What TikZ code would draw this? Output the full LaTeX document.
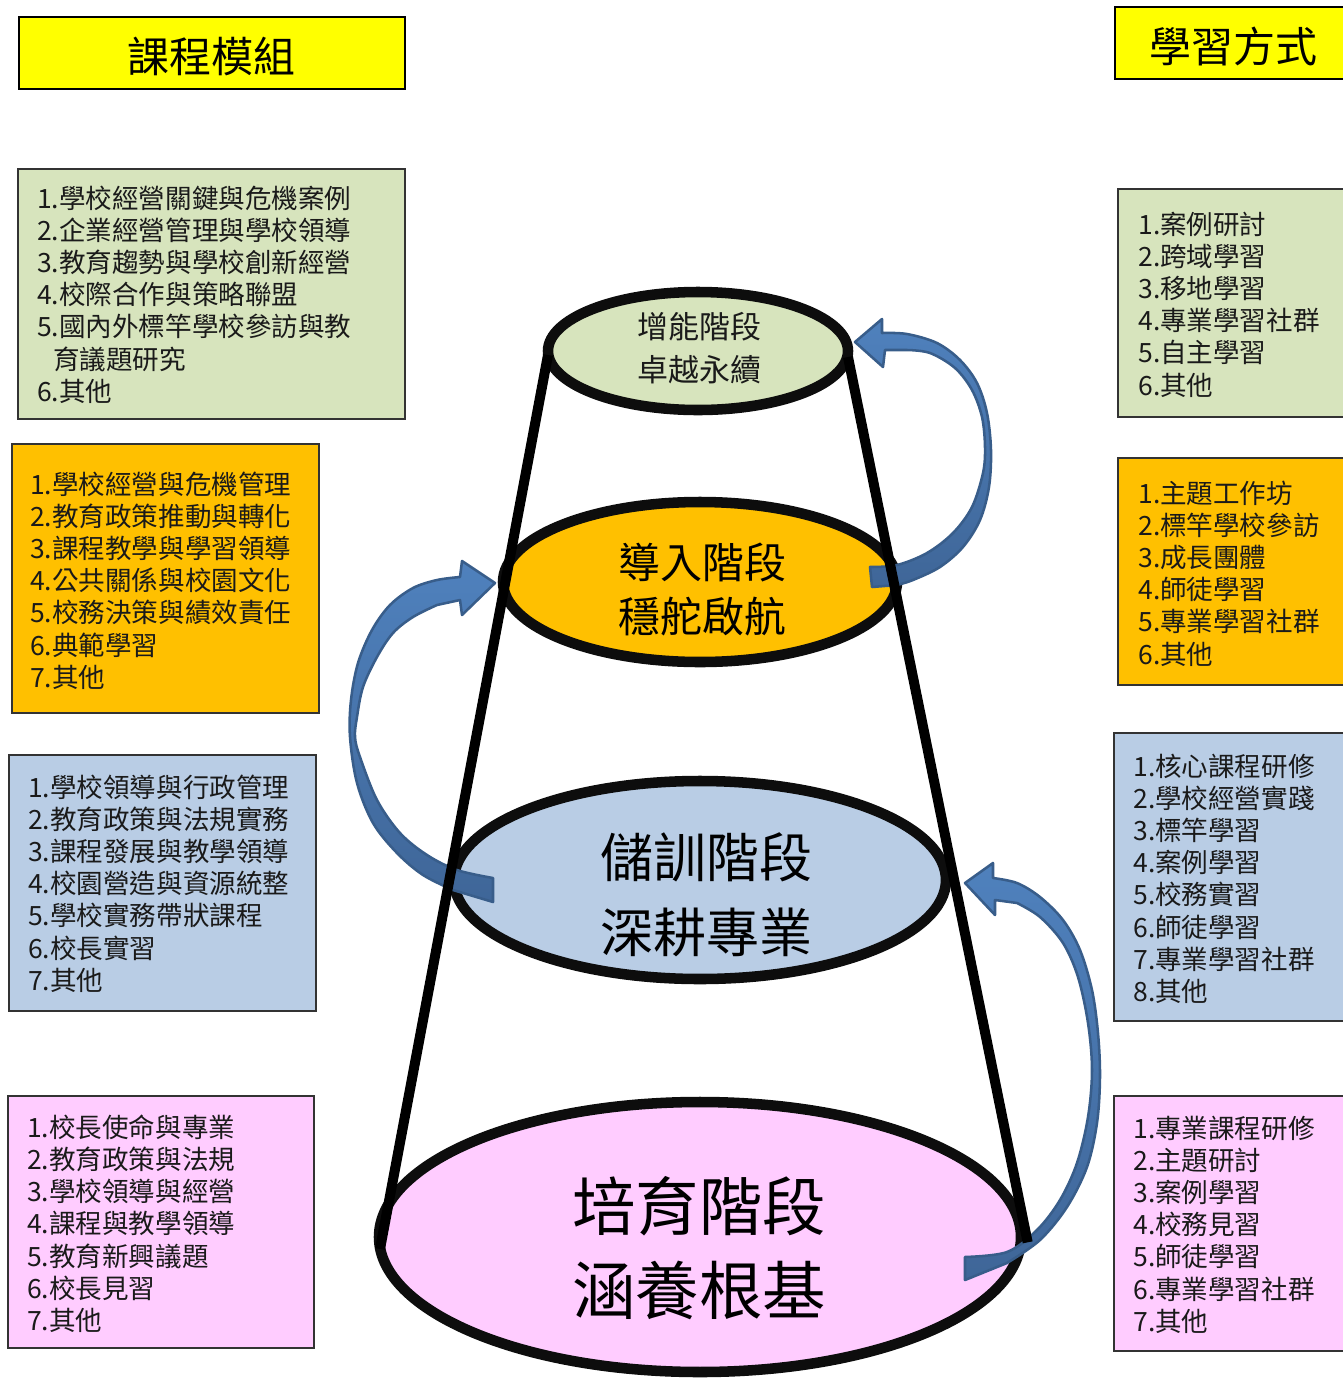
\documentclass[tikz,border=0pt]{standalone}
\usepackage{fontspec}
\setmainfont{Noto Sans CJK TC}
\usetikzlibrary{shapes.geometric}
\definecolor{ylw}{HTML}{FFFF00}
\definecolor{grn}{HTML}{D7E4BD}
\definecolor{org}{HTML}{FFC000}
\definecolor{blu}{HTML}{B9CDE5}
\definecolor{pnk}{HTML}{FFCCFF}
\definecolor{arrfill}{HTML}{4F81BD}
\definecolor{arrdark}{HTML}{3F6698}
\definecolor{arredge}{HTML}{385D8A}
\definecolor{txt}{HTML}{1A1A1A}
\definecolor{edge}{HTML}{0D0D0D}
\begin{document}
\begin{tikzpicture}[x=0.75pt,y=-0.75pt,
  box/.style={draw=black!80, line width=1.2pt, anchor=north west, inner sep=0pt},
  listtext/.style={anchor=north west, inner sep=0pt, align=left, text=txt, font=\fontsize{19.9pt}{24.15pt}\selectfont},
  titletext/.style={inner sep=0pt, font=\fontsize{31.5pt}{36pt}\selectfont},
  stage/.style={ellipse, draw=edge, line width=7.9pt, inner sep=0pt, outer sep=0pt},
  stagetext/.style={align=center, inner sep=0pt},
  blockarrow/.style={draw=arredge, line width=1.9pt, top color=arrfill, bottom color=arrdark, line join=round},
  cone/.style={line width=7.5pt, draw=black}
]
\useasboundingbox (0,0) rectangle (1343,1379);

% title boxes
\node[box, fill=ylw, draw=black, minimum width=386*0.75pt, minimum height=72*0.75pt] (t1) at (18,16) {};
\node[titletext] (t1t) at (211,56) {課程模組};
\node[box, fill=ylw, draw=black, minimum width=240*0.75pt, minimum height=72*0.75pt] (t2) at (1114,6) {};
\node[titletext] (t2t) at (1233,46) {學習方式};

% left list boxes
\node[box, fill=grn, minimum width=387*0.75pt, minimum height=250*0.75pt] (a1) at (17,168) {};
\node[listtext] (a1t) at (37,185.4) {1.學校經營關鍵與危機案例\\2.企業經營管理與學校領導\\3.教育趨勢與學校創新經營\\4.校際合作與策略聯盟\\5.國內外標竿學校參訪與教\\\hspace*{0.6em}育議題研究\\6.其他};
\node[box, fill=org, minimum width=307*0.75pt, minimum height=269*0.75pt] (a2) at (11,443) {};
\node[listtext] (a2t) at (30,471.4) {1.學校經營與危機管理\\2.教育政策推動與轉化\\3.課程教學與學習領導\\4.公共關係與校園文化\\5.校務決策與績效責任\\6.典範學習\\7.其他};
\node[box, fill=blu, minimum width=307*0.75pt, minimum height=256*0.75pt] (a3) at (8,754) {};
\node[listtext] (a3t) at (28,774.4) {1.學校領導與行政管理\\2.教育政策與法規實務\\3.課程發展與教學領導\\4.校園營造與資源統整\\5.學校實務帶狀課程\\6.校長實習\\7.其他};
\node[box, fill=pnk, minimum width=306*0.75pt, minimum height=252*0.75pt] (a4) at (7,1095) {};
\node[listtext] (a4t) at (27,1114.4) {1.校長使命與專業\\2.教育政策與法規\\3.學校領導與經營\\4.課程與教學領導\\5.教育新興議題\\6.校長見習\\7.其他};

% right list boxes
\node[box, fill=grn, minimum width=240*0.75pt, minimum height=228*0.75pt] (b1) at (1117,188) {};
\node[listtext] (b1t) at (1138,211.4) {1.案例研討\\2.跨域學習\\3.移地學習\\4.專業學習社群\\5.自主學習\\6.其他};
\node[box, fill=org, minimum width=240*0.75pt, minimum height=227*0.75pt] (b2) at (1117,457) {};
\node[listtext] (b2t) at (1138,480.4) {1.主題工作坊\\2.標竿學校參訪\\3.成長團體\\4.師徒學習\\5.專業學習社群\\6.其他};
\node[box, fill=blu, minimum width=240*0.75pt, minimum height=288*0.75pt] (b3) at (1113,732) {};
\node[listtext] (b3t) at (1133,753.4) {1.核心課程研修\\2.學校經營實踐\\3.標竿學習\\4.案例學習\\5.校務實習\\6.師徒學習\\7.專業學習社群\\8.其他};
\node[box, fill=pnk, minimum width=240*0.75pt, minimum height=255*0.75pt] (b4) at (1113,1095) {};
\node[listtext] (b4t) at (1133,1115.4) {1.專業課程研修\\2.主題研討\\3.案例學習\\4.校務見習\\5.師徒學習\\6.專業學習社群\\7.其他};

% stage ellipses
\node[stage, fill=grn, minimum width=300*0.75pt, minimum height=118*0.75pt] (e1) at (698,351) {};
\node[stage, fill=org, minimum width=394*0.75pt, minimum height=160*0.75pt] (e2) at (700,582) {};
\node[stage, fill=blu, minimum width=492*0.75pt, minimum height=198*0.75pt] (e3) at (700,880) {};
\node[stage, fill=pnk, minimum width=642*0.75pt, minimum height=270*0.75pt] (e4) at (700,1237) {};

\node[stagetext, text=txt, font=\fontsize{23.25pt}{32.25pt}\selectfont] (s1) at (699,348.5) {增能階段\\卓越永續};
\node[stagetext, text=black, font=\fontsize{31.5pt}{40.5pt}\selectfont] (s2) at (702,589) {導入階段\\穩舵啟航};
\node[stagetext, text=black, font=\fontsize{39.75pt}{56.25pt}\selectfont] (s3) at (706,895) {儲訓階段\\深耕專業};
\node[stagetext, text=black, font=\fontsize{47.6pt}{63pt}\selectfont] (s4) at (699,1248) {培育階段\\涵養根基};

% curved block arrows
\path[blockarrow] (872,587)
  -- plot[smooth, tension=0.55] coordinates {(897,585) (913,580) (940,567) (963,547) (980,520) (989,487) (991,450) (987,413) (977,383) (960,360) (937,343) (907,334) (882,333)}
  -- (882,319) -- (855,342) -- (883,367) -- (885,350)
  -- plot[smooth, tension=0.55] coordinates {(907,350) (930,353) (955,368) (972,390) (982,417) (985,447) (983,473) (972,507) (953,533) (927,553) (897,565) (870,567)}
  -- cycle;
\path[blockarrow] (493,902)
  -- plot[smooth, tension=0.55] coordinates {(453,890) (423,875) (397,853) (373,823) (357,783) (350,737) (351,700) (358,663) (372,630) (390,605) (413,588) (437,580) (460,577)}
  -- (462,561) -- (495,583) -- (462,615) -- (460,600)
  -- plot[smooth, tension=0.55] coordinates {(437,605) (413,617) (393,633) (377,657) (363,687) (357,717) (355,737) (360,757) (377,800) (400,833) (427,855) (457,870) (493,878)}
  -- cycle;
\path[blockarrow] (965,1280)
  -- plot[smooth, tension=0.55] coordinates {(1007,1263) (1040,1240) (1067,1207) (1087,1167) (1097,1123) (1100,1077) (1098,1033) (1092,990) (1080,950) (1063,920) (1040,897) (1017,883) (993,878)}
  -- (993,863) -- (965,883) -- (995,915) -- (995,900)
  -- plot[smooth, tension=0.55] coordinates {(1017,903) (1040,917) (1063,943) (1078,977) (1088,1023) (1092,1070) (1088,1117) (1077,1163) (1060,1200) (1037,1230) (1007,1252) (965,1257)}
  -- cycle;

% cone sides
\coordinate (tl) at ([yshift=-3pt]e1.west);
\coordinate (tr) at ([yshift=-4.5pt]e1.east);
\coordinate (bl) at ([xshift=0.75pt,yshift=-9pt]e4.west);
\coordinate (br) at ([xshift=5pt,yshift=-4pt]e4.east);
\draw[cone] (tl) -- (bl);
\draw[cone] (tr) -- (br);
\end{tikzpicture}
\end{document}
